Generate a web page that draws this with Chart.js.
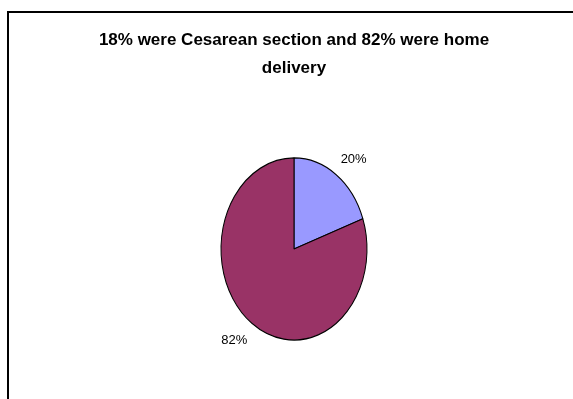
<!DOCTYPE html>
<html>
<head>
<meta charset="utf-8">
<script src="https://cdn.jsdelivr.net/npm/chart.js@4.4.1/dist/chart.umd.min.js"></script>
<style>
  html, body { margin: 0; padding: 0; background: #fff; }
  #wrap { width: 573px; height: 399px; position: relative; }
</style>
</head>
<body>
<div id="wrap"><canvas id="myChart" width="573" height="399"></canvas></div>
<script>
const titleLines = ['18% were Cesarean section and 82% were home', 'delivery'];
const categories = ['Cesarean section', 'Home delivery'];
const values = [20, 82];
const colors = ['#9999FF', '#993366'];

const ctx = document.getElementById('myChart');

// the original picture is stretched vertically, so the pie is an ellipse
const ySquash = 1.247;
const labelTurn = 4 * Math.PI / 180;

const frame = {
    id: 'frame',
    beforeDraw(chart) {
        const c = chart.ctx;
        c.save();
        c.strokeStyle = '#000';
        c.lineWidth = 2;
        c.beginPath();
        c.moveTo(8, 399);
        c.lineTo(8, 12);
        c.lineTo(573, 12);
        c.stroke();
        c.restore();
    }
};

const stretch = {
    id: 'stretch',
    beforeDatasetsDraw(chart) {
        const arc = chart.getDatasetMeta(0).data[0];
        const c = chart.ctx;
        c.save();
        c.translate(arc.x, arc.y);
        c.scale(1, ySquash);
        c.translate(-arc.x, -arc.y);
    },
    afterDatasetsDraw(chart) {
        chart.ctx.restore();
    }
};

const pctLabels = {
    id: 'pctLabels',
    afterDraw(chart) {
        const c = chart.ctx;
        const meta = chart.getDatasetMeta(0);
        c.save();
        c.font = '13px "Liberation Sans", Arial, sans-serif';
        c.fillStyle = '#000';
        c.textAlign = 'center';
        c.textBaseline = 'middle';
        meta.data.forEach((arc, i) => {
            const mid = (arc.startAngle + arc.endAngle) / 2 + labelTurn;
            const r = arc.outerRadius * 1.29;
            const x = arc.x + Math.cos(mid) * r;
            const y = arc.y + Math.sin(mid) * r * ySquash;
            c.fillText(values[i] + '%', x, y + 1);
        });
        c.restore();
    }
};

new Chart(ctx, {
    type: 'pie',
    data: {
        labels: categories,
        datasets: [{
            data: values,
            backgroundColor: colors,
            borderColor: '#000',
            borderWidth: 1,
            radius: 73
        }]
    },
    options: {
        responsive: false,
        animation: false,
        layout: { padding: { left: 15, right: 0, top: 0, bottom: 0 } },
        plugins: {
            legend: { display: false },
            tooltip: { enabled: false },
            title: {
                display: true,
                text: titleLines,
                color: '#000',
                font: { family: '"Liberation Sans", Arial, sans-serif', size: 17, weight: 'bold', lineHeight: 1.65 },
                padding: { top: 26.5, bottom: 16.4 }
            }
        }
    },
    plugins: [frame, stretch, pctLabels]
});
</script>
</body>
</html>
